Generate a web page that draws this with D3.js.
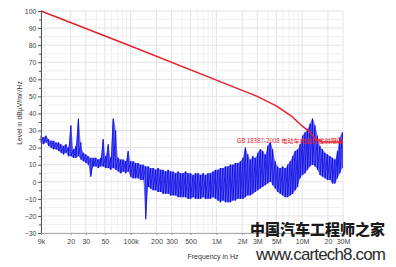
<!DOCTYPE html>
<html>
<head>
<meta charset="utf-8">
<script src="https://cdn.jsdelivr.net/npm/d3@7"></script>
<style>
  body { margin: 0; background: #fff; }
  svg text { font-family: "Liberation Sans", Arial, sans-serif; }
</style>
</head>
<body>
<div id="chart"></div>
<script>
// Measured spectrum: frequency in kHz, upper and lower level of the trace (dBµV/m/√Hz)
const freqKHz = [9, 9.6, 10.3, 11, 11.8, 12.6, 13.5, 14.4, 15.4, 16.5, 17.6, 18.8, 20.1, 21.5, 23, 24.6, 26.3, 28.1, 30, 32,
  34.3, 36.7, 39.2, 41.9, 44.8, 47.9, 51.2, 54.8, 58.6, 62.6, 67, 71.6, 76.6, 81.9, 87.6, 93.6, 100, 107, 114, 122,
  131, 140, 150, 160, 171, 183, 196, 209, 224, 239, 256, 274, 293, 313, 335, 358, 383, 409, 437, 468,
  500, 535, 572, 611, 654, 699, 747, 799, 854, 913, 976, 1044, 1116, 1193, 1276, 1364, 1458, 1559, 1667, 1782,
  1905, 2037, 2178, 2328, 2489, 2661, 2845, 3042, 3252, 3477, 3717, 3974, 4249, 4543, 4857, 5193, 5552, 5935, 6346, 6784,
  7253, 7755, 8291, 8864, 9477, 10132, 10832, 11581, 12382, 13238, 14153, 15131, 16177, 17296, 18491, 19770, 21136, 22597, 24159, 25829,
  27615, 29524];
const hiLevel = [27, 26, 27, 25, 24, 24, 23, 23, 22, 21, 22, 20, 33, 19, 21, 37, 23, 17, 16, 15,
  14, 14, 14, 13, 14, 25, 15, 22, 14, 37, 30, 14, 13, 13, 12, 18, 12, 12, 11, 11,
  10, 10, 9, 9, 8, 8, 7, 8, 7, 7, 6, 7, 6, 6, 5, 6, 5, 5, 6, 5,
  5, 4, 5, 5, 4, 5, 4, 5, 5, 6, 7, 7, 8, 8, 9, 9, 10, 10, 11, 11,
  12, 14, 20, 16, 13, 15, 14, 17, 19, 18, 16, 21, 23, 19, 12, 9, 8, 9, 8, 10,
  12, 15, 18, 19, 22, 27, 29, 31, 34, 37, 33, 27, 21, 19, 17, 16, 15, 14, 13, 18,
  26, 29];
const loLevel = [23, 22, 23, 21, 20, 19, 19, 18, 17, 16, 17, 15, 15, 14, 14, 15, 13, 12, 11, 10,
  3, 9, 9, 8, 9, 9, 8, 8, 7, 8, 7, 6, 5, 6, 5, 6, 3, 2, 2, 2,
  1, 1, -22, -3, -4, -5, -5, -6, -6, -7, -7, -7, -8, -8, -8, -9, -9, -9, -9, -10,
  -10, -9, -10, -10, -10, -9, -10, -10, -10, -9, -10, -11, -12, -11, -12, -12, -12, -11, -11, -10,
  -10, -10, -9, -8, -8, -7, -6, -5, -4, -3, -2, -1, 0, -2, -4, -6, -7, -8, -9, -9,
  -8, -7, -5, -3, 2, 4, 5, 7, 9, 10, 9, 7, 4, 3, 2, 1, 1, -1, -1, 2,
  5, 8];

// GB 18387-2008 limit line
const limitHz = [9e3, 1e5, 1e6, 3e6, 5e6, 7.5e6, 1e7, 1.2e7, 1.4e7, 1.7e7, 3e7];
const limitLevel = [100, 79.5, 59.5, 50, 44.4, 38.5, 32.7, 29.7, 25.6, 23.3, 23.3];

// Axis ticks
const xTickHz = [9e3, 2e4, 3e4, 5e4, 1e5, 2e5, 3e5, 5e5, 1e6, 2e6, 3e6, 5e6, 1e7, 2e7, 3e7];
const xTickLabels = ["9k", "20", "30", "50", "100k", "200", "300", "500", "1M", "2M", "3M", "5M", "10M", "20", "30M"];
const yTicks = [100, 90, 80, 70, 60, 50, 40, 30, 20, 10, 0, -10, -20, -30];

const W = 396, H = 267;
const svg = d3.select("#chart").append("svg")
    .attr("width", W)
    .attr("height", H);

const x = d3.scaleLog().domain([9e3, 3e7]).range([41, 343]);
const y = d3.scaleLinear().domain([-30, 100]).range([233, 11]);

// grid
const grid = svg.append("g");
const minorX = [];
[1e3, 1e4, 1e5, 1e6, 1e7].forEach(dec => {
    for (let m = 1; m < 10; m++) {
        const v = dec * m;
        if (v >= 9e3 && v <= 3e7) minorX.push(v);
    }
});
grid.selectAll(".vx").data(minorX).join("line")
    .attr("x1", d => x(d)).attr("x2", d => x(d))
    .attr("y1", y(100)).attr("y2", y(-30))
    .attr("stroke", d => xTickHz.includes(d) ? "#e3e3e3" : "#f0f0f0")
    .attr("stroke-width", 1);
grid.selectAll(".hy").data(d3.range(-30, 101, 5)).join("line")
    .attr("x1", x(9e3)).attr("x2", x(3e7))
    .attr("y1", d => y(d)).attr("y2", d => y(d))
    .attr("stroke", d => d % 10 === 0 ? "#e3e3e3" : "#f0f0f0")
    .attr("stroke-width", 1);

// spectrum
const spectrum = freqKHz.map((f, i) => ({ f: f * 1000, hi: hiLevel[i], lo: loLevel[i] }));

svg.append("path")
    .datum(spectrum)
    .attr("fill", "#2e2eff")
    .attr("fill-opacity", 0.72)
    .attr("d", d3.area()
        .curve(d3.curveMonotoneX)
        .x(d => x(d.f))
        .y0(d => y(d.lo))
        .y1(d => y(d.hi)));

const zig = spectrum.flatMap(d => [[d.f, d.hi], [d.f, d.lo]]);
svg.append("path")
    .datum(zig)
    .attr("fill", "none")
    .attr("stroke", "#0000d8")
    .attr("stroke-width", 0.7)
    .attr("d", d3.line().x(d => x(d[0])).y(d => y(d[1])));

// limit line
const limit = limitHz.map((f, i) => ({ f, v: limitLevel[i] }));
svg.append("path")
    .datum(limit)
    .attr("fill", "none")
    .attr("stroke", "#e3212b")
    .attr("stroke-width", 1.5)
    .attr("stroke-linejoin", "round")
    .attr("d", d3.line().x(d => x(d.f)).y(d => y(d.v)));

svg.append("text")
    .attr("x", 237).attr("y", 142.5)
    .attr("fill", "#e3212b")
    .style("font-size", "6.2px")
    .style("font-family", "'Noto Sans CJK SC', 'Liberation Sans', sans-serif")
    .text("GB 18387-2008 电动车电磁场发射限值");

// y axis
const yAxis = svg.append("g")
    .attr("transform", `translate(${x(9e3)},0)`)
    .call(d3.axisLeft(y).tickValues(yTicks).tickSize(3).tickPadding(1.5));
yAxis.select(".domain").attr("stroke", "#555");
yAxis.selectAll("line").attr("stroke", "#555");
yAxis.selectAll("text").style("font-size", "7px").attr("fill", "#444");

svg.append("g")
    .attr("transform", `translate(${x(9e3)},0)`)
    .call(d3.axisLeft(y).tickValues(d3.range(-25, 100, 10)).tickSize(2).tickFormat(""))
    .call(g => g.select(".domain").remove())
    .selectAll("line").attr("stroke", "#555");

// x axis
const xAxis = svg.append("g")
    .attr("transform", `translate(0,${y(-30)})`)
    .call(d3.axisBottom(x).tickValues(xTickHz).tickSize(2).tickPadding(4)
        .tickFormat((d, i) => xTickLabels[i]));
xAxis.select(".domain").attr("stroke", "#aaa");
xAxis.selectAll("line").attr("stroke", "#999");
xAxis.selectAll("text").style("font-size", "7px").attr("fill", "#444");

// axis titles
svg.append("text")
    .attr("x", 213).attr("y", 259)
    .attr("text-anchor", "middle")
    .attr("fill", "#333")
    .style("font-size", "7px")
    .text("Frequency in Hz");

svg.append("text")
    .attr("transform", "translate(22,113) rotate(-90)")
    .attr("text-anchor", "middle")
    .attr("fill", "#333")
    .style("font-size", "6.8px")
    .text("Level in dBµV/m/√Hz");

// watermark
svg.append("text")
    .attr("x", 250).attr("y", 235)
    .attr("fill", "#1a1a1a")
    .style("font-family", "'Noto Sans CJK SC', sans-serif")
    .style("font-weight", 900)
    .style("font-size", "15px")
    .attr("textLength", 135)
    .text("中国汽车工程师之家");

svg.append("text")
    .attr("x", 256).attr("y", 260)
    .attr("fill", "#2a2a2a")
    .style("font-size", "17px")
    .attr("textLength", 130)
    .text("www.cartech8.com");
</script>
</body>
</html>
